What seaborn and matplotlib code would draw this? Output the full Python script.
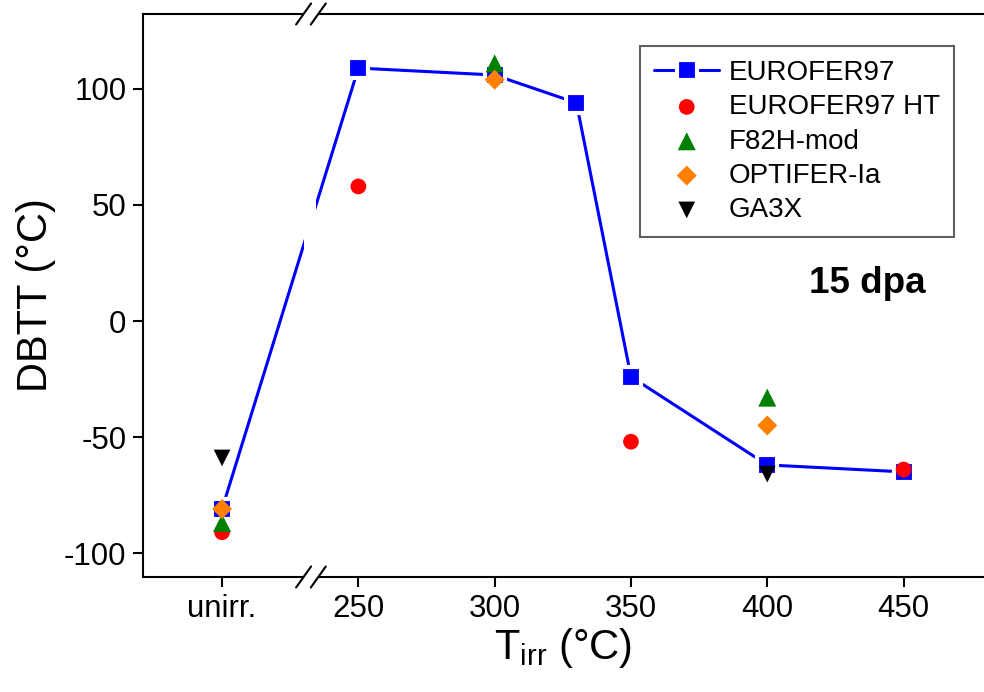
import matplotlib
matplotlib.use('Agg')
import matplotlib.pyplot as plt
import seaborn as sns
import pandas as pd

# ---------------- data ----------------
xtick_pos = [200, 250, 300, 350, 400, 450]
xtick_labels = ['unirr.', '250', '300', '350', '400', '450']
ytick_pos = [-100, -50, 0, 50, 100]

t_euro = [200, 250, 300, 330, 350, 400, 450]
dbtt_euro = [-81, 109, 106, 94, -24, -62, -65]

t_ht = [200, 250, 350, 450]
dbtt_ht = [-91, 58, -52, -64]

t_f82h = [200, 300, 400]
dbtt_f82h = [-87, 111, -33]

t_optifer = [200, 300, 400]
dbtt_optifer = [-81, 104, -45]

t_ga3x = [200, 400]
dbtt_ga3x = [-59, -66]

# ---------------- style ----------------
sns.set_theme(style='white')
plt.rcParams['font.family'] = ['Liberation Sans', 'DejaVu Sans']
plt.rcParams['axes.unicode_minus'] = False
plt.rcParams['mathtext.default'] = 'regular'
plt.rcParams['text.color'] = 'black'
plt.rcParams['axes.labelcolor'] = 'black'

fig = plt.figure(figsize=(9.84, 6.92), dpi=100)
ax = fig.add_axes([143/984, 1-577/692, 1-143/984, (577-14)/692])

df_euro = pd.DataFrame({'T': t_euro, 'DBTT': dbtt_euro})
sns.lineplot(data=df_euro, x='T', y='DBTT', ax=ax, color='#0000ff', lw=2.2,
             marker='s', markersize=14.5, markeredgecolor='white',
             markeredgewidth=3, label='EUROFER97', zorder=3)

sns.scatterplot(x=t_ht, y=dbtt_ht, ax=ax, marker='o', s=128, color='#ff0000',
                edgecolor='none', label='EUROFER97 HT', zorder=4)
sns.scatterplot(x=t_f82h, y=dbtt_f82h, ax=ax, marker='^', s=169, color='#008000',
                edgecolor='none', label='F82H-mod', zorder=4)
sns.scatterplot(x=t_optifer, y=dbtt_optifer, ax=ax, marker='D', s=104, color='#ff8000',
                edgecolor='none', label='OPTIFER-Ia', zorder=5)
sns.scatterplot(x=t_ga3x, y=dbtt_ga3x, ax=ax, marker='v', s=144, color='black',
                edgecolor='none', label='GA3X', zorder=4)

ax.set_xlim(171, 479.5)
ax.set_ylim(-110.3, 132.3)
ax.set_xticks(xtick_pos)
ax.set_xticklabels(xtick_labels)
ax.set_yticks(ytick_pos)

ax.set_xlabel('T$_{irr}$ (°C)', fontsize=30, labelpad=2, color='black')
ax.set_ylabel('DBTT (°C)', fontsize=30, labelpad=6, color='black')

for side in ['left', 'bottom', 'top']:
    ax.spines[side].set_color('black')
    ax.spines[side].set_linewidth(1.5)
ax.spines['right'].set_visible(False)

ax.tick_params(axis='both', which='major', direction='out', length=7, width=1.5,
               labelsize=22.5, colors='black', pad=5, bottom=True, left=True)

# axis break
b0, b1 = 229.9, 235.3
ax.axvspan(230.2, 234.4, color='white', zorder=6, lw=0)
xt = ax.get_xaxis_transform()
for yy in (0, 1):
    ax.plot([b0, b1], [yy, yy], transform=xt, color='white', lw=3,
            clip_on=False, zorder=7, solid_capstyle='butt')
    for bc in (b0, b1):
        ax.plot([bc - 2.75, bc + 2.75], [yy - 0.0187, yy + 0.0187], transform=xt,
                color='black', lw=1.5, clip_on=False, zorder=8)

ax.text(0.861, 0.522, '15 dpa', transform=ax.transAxes, fontsize=26.5,
        fontweight='bold', ha='center', va='center', color='black')

leg = ax.legend(loc='upper right', bbox_to_anchor=(0.9643, 0.9432), borderaxespad=0,
                frameon=True, fancybox=False, edgecolor='#606060', fontsize=20,
                handlelength=2.34, labelspacing=0.3, borderpad=0.5, handletextpad=0.35,
                framealpha=1)
leg.get_frame().set_linewidth(1.5)
for txt in leg.get_texts():
    txt.set_color('black')

fig.savefig('out.png', dpi=100)
